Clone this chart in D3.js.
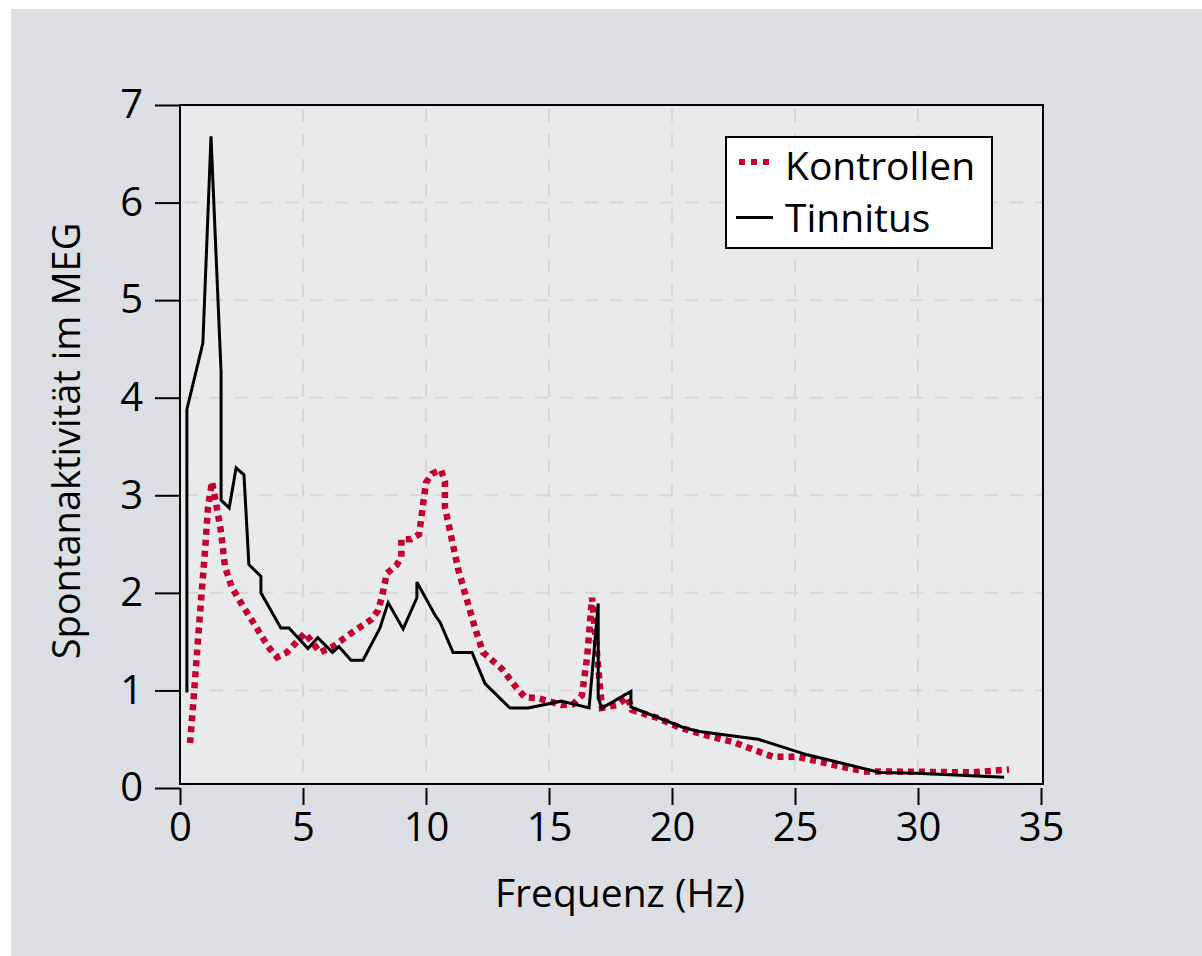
<!DOCTYPE html>
<html>
<head>
<meta charset="utf-8">
<script src="https://cdn.jsdelivr.net/npm/d3@7"></script>
<style>
    html, body { margin: 0; padding: 0; background: #ffffff; }
    svg { display: block; font-family: "Open Sans", "Noto Sans", sans-serif; }
</style>
</head>
<body>
<div id="chart"></div>
<script>
// Kontrollen (dotted red)
const kontrollenFreq = [0.41, 0.57, 0.73, 0.89, 1.02, 1.14, 1.3, 1.5, 1.67, 1.83, 2.1, 2.52, 2.97, 3.58, 3.94,
    4.35, 5.08, 5.69, 6.22, 7.03, 7.8, 8.05, 8.21, 8.41, 8.82, 9.0, 9.0, 9.39, 9.72, 10.0, 10.24, 10.61,
    10.77, 10.77, 11.3, 11.99, 12.32, 13.09, 13.7, 14.02, 14.55, 15.12, 15.5, 15.98, 16.34, 16.55, 16.75,
    17.15, 17.76, 18.2, 18.37, 19.39, 20.3, 21.67, 22.5, 23.66, 24.1, 25.1, 26.5, 27.8, 28.6, 32.2, 33.7];
const kontrollenValues = [0.46, 0.97, 1.52, 2.03, 2.44, 2.88, 3.14, 2.87, 2.62, 2.27, 2.06, 1.88, 1.7, 1.45, 1.34,
    1.39, 1.59, 1.39, 1.45, 1.6, 1.73, 1.82, 1.96, 2.2, 2.29, 2.37, 2.55, 2.55, 2.6, 3.13, 3.22, 3.26,
    3.14, 2.88, 2.25, 1.64, 1.39, 1.22, 1.02, 0.93, 0.92, 0.88, 0.85, 0.86, 0.95, 1.34, 1.95,
    0.82, 0.85, 0.93, 0.8, 0.72, 0.62, 0.52, 0.47, 0.36, 0.32, 0.32, 0.24, 0.17, 0.17, 0.16, 0.19];

// Tinnitus (solid black)
const tinnitusFreq = [0.28, 0.28, 0.93, 1.26, 1.67, 1.67, 2.0, 2.28, 2.6, 2.8, 3.29, 3.29, 4.1, 4.43, 5.2,
    5.6, 6.2, 6.46, 6.95, 7.44, 8.13, 8.46, 9.07, 9.63, 9.63, 10.37, 10.57, 11.1, 11.87, 12.4, 13.41,
    14.15, 15.5, 16.63, 17.0, 17.0, 17.15, 18.33, 18.33, 20.45, 21.1, 23.5, 25.5, 28.45, 29.96, 33.5];
const tinnitusValues = [0.98, 3.88, 4.56, 6.68, 4.26, 2.95, 2.87, 3.28, 3.21, 2.29, 2.17, 2.0, 1.64, 1.64, 1.43,
    1.54, 1.39, 1.45, 1.31, 1.31, 1.64, 1.9, 1.63, 1.95, 2.11, 1.77, 1.7, 1.39, 1.39, 1.07, 0.82,
    0.82, 0.89, 0.82, 1.89, 0.92, 0.82, 0.99, 0.83, 0.62, 0.58, 0.5, 0.34, 0.16, 0.15, 0.11];

const xTicks = [0, 5, 10, 15, 20, 25, 30, 35];
const yTicks = [0, 1, 2, 3, 4, 5, 6, 7];
const seriesNames = ["Kontrollen", "Tinnitus"];

const width = 1202, height = 956;
const plot = { left: 180, right: 1043, top: 105, bottom: 784 };
const red = "#c4002f";

const svg = d3.select("#chart").append("svg")
    .attr("width", width)
    .attr("height", height);

// outer panel
svg.append("rect")
    .attr("x", 11).attr("y", 9)
    .attr("width", width - 11).attr("height", height - 9)
    .attr("fill", "#dce0e4");

const x = d3.scaleLinear().domain([0, 35]).range([180, 1041]);
const y = d3.scaleLinear().domain([0, 7]).range([788, 105]);

svg.append("rect")
    .attr("x", plot.left).attr("y", plot.top)
    .attr("width", plot.right - plot.left).attr("height", plot.bottom - plot.top)
    .attr("fill", "#e9eaec");

// grid
const grid = svg.append("g")
    .attr("stroke", "#d6d7d9")
    .attr("stroke-width", 2)
    .attr("stroke-dasharray", "13,12");
grid.selectAll(".gx").data(xTicks.filter(d => d > 0 && d < 35)).join("line")
    .attr("x1", d => x(d)).attr("x2", d => x(d))
    .attr("y1", plot.top + 4).attr("y2", plot.bottom);
grid.selectAll(".gy").data(yTicks.filter(d => d > 0 && d < 7)).join("line")
    .attr("x1", plot.left + 5).attr("x2", plot.right)
    .attr("y1", d => y(d)).attr("y2", d => y(d));

// lines
const kontrollen = kontrollenFreq.map((f, i) => [f, kontrollenValues[i]]);
const tinnitus = tinnitusFreq.map((f, i) => [f, tinnitusValues[i]]);
const line = d3.line().x(d => x(d[0])).y(d => y(d[1]));

svg.append("path")
    .datum(kontrollen)
    .attr("d", line)
    .attr("fill", "none")
    .attr("stroke", red)
    .attr("stroke-width", 6.5)
    .attr("stroke-dasharray", "6,5");

svg.append("path")
    .datum(tinnitus)
    .attr("d", line)
    .attr("fill", "none")
    .attr("stroke", "#000")
    .attr("stroke-width", 3)
    .attr("stroke-linejoin", "miter");

// box
svg.append("rect")
    .attr("x", plot.left).attr("y", plot.top)
    .attr("width", plot.right - plot.left).attr("height", plot.bottom - plot.top)
    .attr("fill", "none")
    .attr("stroke", "#000")
    .attr("stroke-width", 2);

// axes
const xAxisG = svg.append("g")
    .attr("transform", "translate(0,788)")
    .call(d3.axisBottom(x).tickValues(xTicks).tickSize(17).tickPadding(8).tickFormat(d3.format("d")));
const yAxisG = svg.append("g")
    .attr("transform", "translate(180,0)")
    .call(d3.axisLeft(y).tickValues(yTicks).tickSize(25).tickPadding(12).tickFormat(d3.format("d")));

[xAxisG, yAxisG].forEach(g => {
    g.select(".domain").remove();
    g.selectAll(".tick line").attr("stroke", "#000").attr("stroke-width", 2);
    g.selectAll(".tick text")
        .attr("fill", "#000")
        .style("font-family", "'Open Sans', sans-serif")
        .style("font-size", "40px");
});

// axis titles
svg.append("text")
    .attr("x", 620).attr("y", 907)
    .attr("text-anchor", "middle")
    .style("font-size", "39px")
    .text("Frequenz (Hz)");

svg.append("text")
    .attr("transform", "translate(80,441) rotate(-90)")
    .attr("text-anchor", "middle")
    .style("font-size", "38px")
    .text("Spontanaktivität im MEG");

// legend
const legend = svg.append("g");
legend.append("rect")
    .attr("x", 726).attr("y", 137)
    .attr("width", 266).attr("height", 111)
    .attr("fill", "#fff")
    .attr("stroke", "#000")
    .attr("stroke-width", 2);

legend.append("line")
    .attr("x1", 739).attr("x2", 772)
    .attr("y1", 162).attr("y2", 162)
    .attr("stroke", red)
    .attr("stroke-width", 6)
    .attr("stroke-dasharray", "6,6");
legend.append("line")
    .attr("x1", 736).attr("x2", 773)
    .attr("y1", 217.5).attr("y2", 217.5)
    .attr("stroke", "#000")
    .attr("stroke-width", 3);

legend.selectAll(".lt").data(seriesNames).join("text")
    .attr("x", 785)
    .attr("y", (d, i) => [180, 232][i])
    .style("font-size", "39px")
    .text(d => d);
</script>
</body>
</html>
